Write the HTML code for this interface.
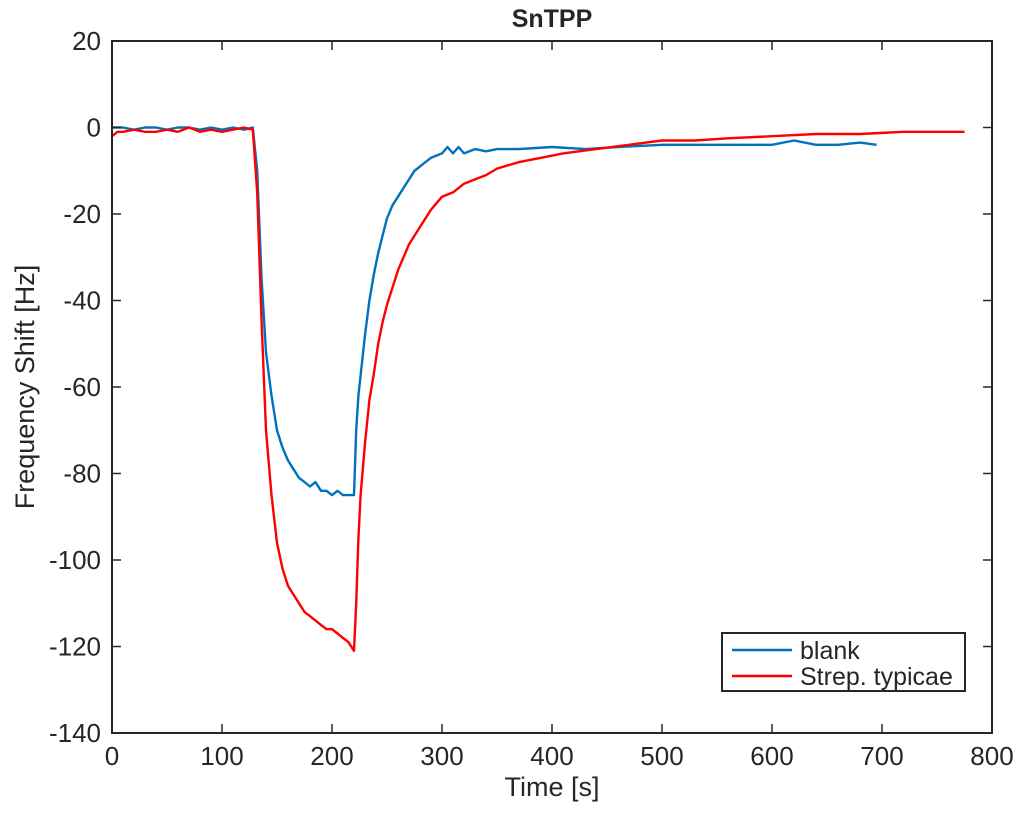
<!DOCTYPE html>
<html><head><meta charset="utf-8"><style>
body{margin:0;background:#fff;}
svg text{font-family:"Liberation Sans",sans-serif;fill:#262626;}
</style></head><body>
<svg id="chart" width="1024" height="810" xmlns="http://www.w3.org/2000/svg">
<rect width="1024" height="810" fill="#fff"/>
<g id="series"></g>
<g id="axes"></g>
</svg>
<script>
const xTicks=[0,100,200,300,400,500,600,700,800];
const yTicks=[20,0,-20,-40,-60,-80,-100,-120,-140];
const blankT=[0,10,20,30,40,50,60,70,80,90,100,110,120,128,132,136,140,145,150,155,160,165,170,175,180,185,190,195,200,205,210,215,220,222,224,227,230,234,238,242,246,250,255,260,265,270,275,280,285,290,300,305,310,315,320,330,340,350,370,400,430,460,500,530,560,600,620,640,660,680,695];
const blankV=[0,0,-0.5,0,0,-0.5,0,0,-0.5,0,-0.5,0,-0.5,0,-10,-35,-52,-62,-70,-74,-77,-79,-81,-82,-83,-82,-84,-84,-85,-84,-85,-85,-85,-70,-62,-55,-48,-40,-34,-29,-25,-21,-18,-16,-14,-12,-10,-9,-8,-7,-6,-4.5,-6,-4.5,-6,-5,-5.5,-5,-5,-4.5,-5,-4.5,-4,-4,-4,-4,-3,-4,-4,-3.5,-4];
const strepT=[0,5,10,20,30,40,50,60,70,80,90,100,110,120,128,132,136,140,145,150,155,160,165,170,175,180,185,190,195,200,205,210,215,220,222,224,226,230,234,238,242,246,250,255,260,265,270,280,290,300,310,320,330,340,350,370,390,410,440,470,500,530,560,600,640,680,720,750,775];
const strepV=[-2,-1,-1,-0.5,-1,-1,-0.5,-1,0,-1,-0.5,-1,-0.5,0,-0.5,-15,-45,-70,-85,-96,-102,-106,-108,-110,-112,-113,-114,-115,-116,-116,-117,-118,-119,-121,-110,-95,-85,-73,-63,-57,-50,-45,-41,-37,-33,-30,-27,-23,-19,-16,-15,-13,-12,-11,-9.5,-8,-7,-6,-5,-4,-3,-3,-2.5,-2,-1.5,-1.5,-1,-1,-1];
const X0=112,X1=992,Y0=41,Y1=733;
const xs=v=>X0+(v-0)/800*(X1-X0);
const ys=v=>Y0+(20-v)/160*(Y1-Y0);
const NS='http://www.w3.org/2000/svg';
function mk(p,tag,at){const e=document.createElementNS(NS,tag);for(const k in at)e.setAttribute(k,at[k]);p.appendChild(e);return e;}
const axes=document.getElementById('axes'),ser=document.getElementById('series');
function line(t,v,c,name){const d=t.map((x,i)=>(i?'L':'M')+xs(x).toFixed(1)+','+ys(v[i]).toFixed(1)).join('');
const p=mk(ser,'path',{d:d,fill:'none',stroke:c,'stroke-width':2.4,'stroke-linejoin':'round'});

}
line(blankT,blankV,'#0072BD','blank-line');
line(strepT,strepV,'#FF0000','strep-line');
const box=mk(axes,'rect',{x:X0,y:Y0,width:X1-X0,height:Y1-Y0,fill:'none',stroke:'#262626','stroke-width':2});


xTicks.forEach(v=>{const x=xs(v);
mk(axes,'line',{x1:x,x2:x,y1:Y1,y2:Y1-9,stroke:'#262626','stroke-width':1.5});
mk(axes,'line',{x1:x,x2:x,y1:Y0,y2:Y0+9,stroke:'#262626','stroke-width':1.5});
const t=mk(axes,'text',{x:x,y:765,'text-anchor':'middle','font-size':26});t.textContent=v;

});
yTicks.forEach(v=>{const y=ys(v);
mk(axes,'line',{x1:X0,x2:X0+9,y1:y,y2:y,stroke:'#262626','stroke-width':1.5});
mk(axes,'line',{x1:X1,x2:X1-9,y1:y,y2:y,stroke:'#262626','stroke-width':1.5});
const t=mk(axes,'text',{x:101,y:y+9,'text-anchor':'end','font-size':26});t.textContent=v;

});
</script>
<svg style="position:absolute;left:0;top:0" width="1024" height="810">
<text x="552" y="27" text-anchor="middle" font-size="25" font-weight="bold" style="font-family:'Liberation Sans',sans-serif" fill="#000">SnTPP</text>
<text x="552" y="796" text-anchor="middle" font-size="27" style="font-family:'Liberation Sans',sans-serif" fill="#262626">Time [s]</text>
<text transform="translate(34,387) rotate(-90)" text-anchor="middle" font-size="27" style="font-family:'Liberation Sans',sans-serif" fill="#262626">Frequency Shift [Hz]</text>
<g>
<rect x="722" y="633" width="243" height="58" fill="#fff" stroke="#262626" stroke-width="2"/>
<line x1="732" x2="792" y1="650" y2="650" stroke="#0072BD" stroke-width="2.4"/>
<text x="800" y="659" font-size="25" style="font-family:'Liberation Sans',sans-serif" fill="#000">blank</text>
<line x1="732" x2="792" y1="676" y2="676" stroke="#FF0000" stroke-width="2.4"/>
<text x="800" y="685" font-size="25" style="font-family:'Liberation Sans',sans-serif" fill="#000">Strep. typicae</text>
</g>
</svg>
</body></html>
